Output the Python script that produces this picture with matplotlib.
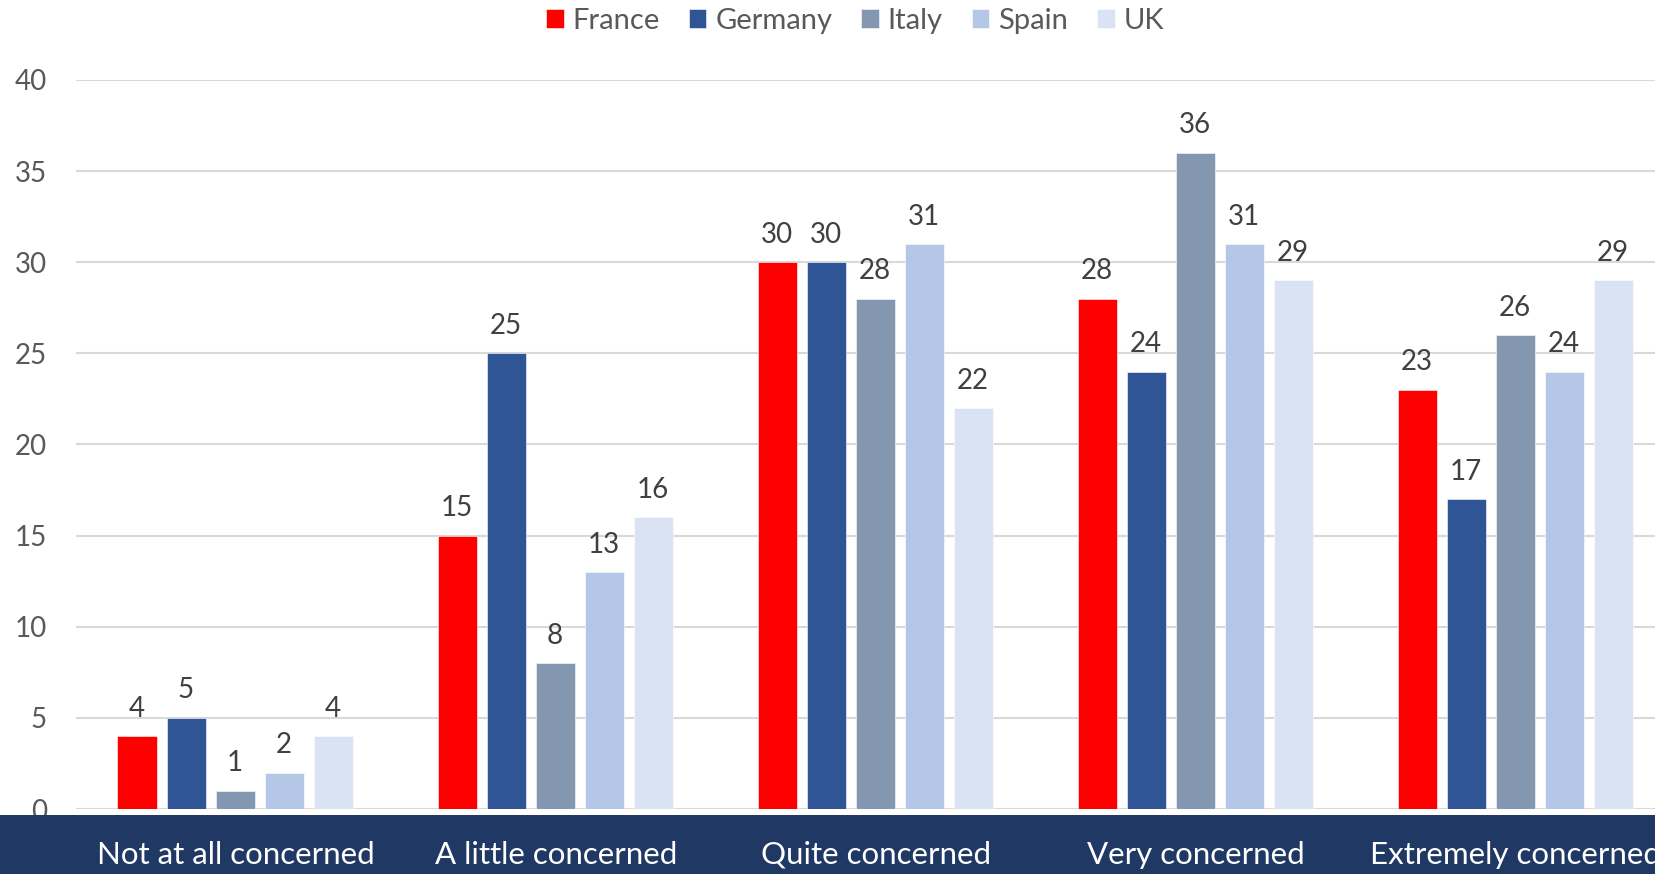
import matplotlib
matplotlib.use("Agg")
import matplotlib.pyplot as plt
import matplotlib.transforms as mtransforms
from matplotlib.patches import Rectangle
import numpy as np

categories = ["Not at all concerned", "A little concerned", "Quite concerned",
              "Very concerned", "Extremely concerned"]
series_names = ["France", "Germany", "Italy", "Spain", "UK"]
france = [4, 15, 30, 28, 23]
germany = [5, 25, 30, 24, 17]
italy = [1, 8, 28, 36, 26]
spain = [2, 13, 31, 31, 24]
uk = [4, 16, 22, 29, 29]
yticks = [0, 5, 10, 15, 20, 25, 30, 35, 40]
colors = ["#FF0000", "#2F5597", "#8497B0", "#B4C7E7", "#DAE3F3"]

plt.rcParams['font.family'] = ['Lato', 'DejaVu Sans']

W, H = 1656, 874
fig = plt.figure(figsize=(W / 100, H / 100), dpi=100)

# navy band at the bottom
fig.patches.append(Rectangle((0, 0), 1, 59 / H, transform=fig.transFigure,
                             facecolor="#203864", edgecolor="none", zorder=0))

ax = fig.add_axes([76 / W, 65 / H, 1600 / W, 729 / H])
ax.set_xlim(-0.5, 4.5)
ax.set_ylim(0, 40)

x = np.arange(len(categories))
bw = 39 / 320
step = 49 / 320
all_series = [france, germany, italy, spain, uk]
for i, (name, vals, c) in enumerate(zip(series_names, all_series, colors)):
    pos = x + (i - 2) * step - 1 / 320
    ax.bar(pos, vals, width=bw, color=c, label=name, zorder=3,
           edgecolor="white", linewidth=0.4)
    for px, v in zip(pos, vals):
        ax.annotate(str(v), (px, v), xytext=(0, 14), textcoords="offset points",
                    ha="center", va="baseline", fontsize=20, color="#404040")

ax.set_yticks(yticks)
ax.yaxis.grid(True, color="#D9D9D9", linewidth=1.5, zorder=0)
ax.set_axisbelow(True)
for s in ax.spines.values():
    s.set_visible(False)
ax.tick_params(axis="y", length=0, pad=21, labelsize=20, labelcolor="#595959")
ax.set_xticks([])

# category labels in band
trans = mtransforms.blended_transform_factory(ax.transData, fig.transFigure)
for xi, cat in zip(x, categories):
    fig.text(xi, 19 / H, cat, transform=trans, ha="center", va="center",
             color="white", fontsize=22.5, zorder=5)

fig.legend(loc="center", bbox_to_anchor=(855 / W, 1 - 21 / H), ncol=5,
           frameon=False, fontsize=21, handlelength=0.6, handleheight=0.6,
           handletextpad=0.3, columnspacing=1.0, labelcolor="#595959")

fig.savefig("out.png", dpi=100)
